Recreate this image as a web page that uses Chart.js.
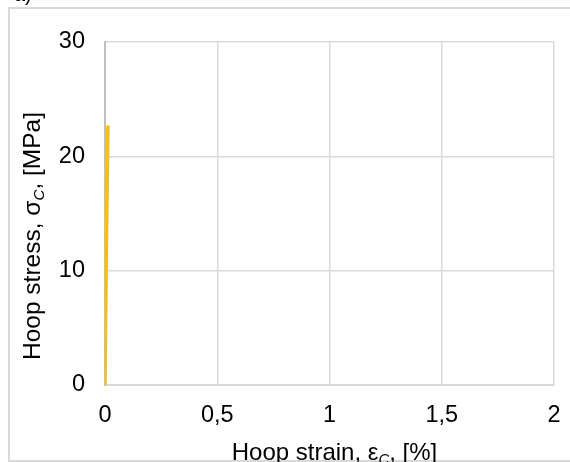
<!DOCTYPE html>
<html>
<head>
<meta charset="utf-8">
<script src="https://cdn.jsdelivr.net/npm/chart.js@4.4.1/dist/chart.umd.min.js"></script>
<style>
  html, body { margin: 0; padding: 0; background: #fff; }
  #wrap { width: 570px; height: 462px; position: relative; }
</style>
</head>
<body>
<div id="wrap"><canvas id="c" width="570" height="462"></canvas></div>
<script>
// 数据：环向应变 [%] / 环向应力 [MPa]
const strain = [0, 0.006, 0.013];
const stress = [0, 11.2, 22.7];
const xTicks = [0, 0.5, 1, 1.5, 2];
const yTicks = [0, 10, 20, 30];

const FONT = "'Liberation Sans', Arial, sans-serif";
const FS = 23.5;

// 带下标的文字（逐段绘制）
function drawRich(ctx, parts, size) {
  let w = 0;
  parts.forEach(p => {
    ctx.font = (p.sub ? 'italic ' : '') + (p.sub ? size * 0.62 : size) + 'px ' + FONT;
    p.w = ctx.measureText(p.t).width;
    w += p.w;
  });
  let x = -w / 2;
  parts.forEach(p => {
    ctx.font = (p.sub ? 'italic ' : '') + (p.sub ? size * 0.62 : size) + 'px ' + FONT;
    ctx.fillText(p.t, x, p.sub ? size * 0.18 : 0);
    x += p.w;
  });
}

const decoPlugin = {
  id: 'deco',
  beforeDraw(chart) {
    const ctx = chart.ctx;
    ctx.save();
    ctx.fillStyle = '#fff';
    ctx.fillRect(0, 0, chart.width, chart.height);
    ctx.strokeStyle = '#d9d9d9';
    ctx.lineWidth = 2;
    ctx.strokeRect(9, 8, 600, 453);
    ctx.fillStyle = '#000';
    ctx.font = '20px ' + FONT;
    ctx.textAlign = 'left';
    ctx.textBaseline = 'alphabetic';
    ctx.fillText('a)', 14, 1);
    ctx.restore();
  },
  afterDraw(chart) {
    const ctx = chart.ctx;
    const a = chart.chartArea;
    ctx.save();
    ctx.fillStyle = '#000';
    ctx.textAlign = 'left';
    ctx.textBaseline = 'alphabetic';
    // x 轴标题
    ctx.save();
    ctx.translate((a.left + a.right) / 2 + 5, 460);
    drawRich(ctx, [{ t: 'Hoop strain, ε' }, { t: 'C', sub: true }, { t: ', [%]' }], 24);
    ctx.restore();
    // y 轴标题
    ctx.save();
    ctx.translate(40, 236);
    ctx.rotate(-Math.PI / 2);
    drawRich(ctx, [{ t: 'Hoop stress, σ' }, { t: 'C', sub: true }, { t: ', [MPa]' }], 24.5);
    ctx.restore();
    ctx.restore();
  }
};

new Chart(document.getElementById('c'), {
  type: 'line',
  data: {
    datasets: [{
      data: strain.map((s, i) => ({ x: s, y: stress[i] })),
      borderColor: '#ffc000',
      borderWidth: 3.5,
      pointRadius: 0,
      fill: false,
      tension: 0
    }]
  },
  options: {
    responsive: false,
    animation: false,
    devicePixelRatio: 1,
    layout: { padding: { left: 0, top: 42, right: 16, bottom: 0 } },
    plugins: { legend: { display: false }, tooltip: { enabled: false } },
    scales: {
      x: {
        type: 'linear',
        min: 0,
        max: 2,
        afterBuildTicks: (s) => { s.ticks = xTicks.map(v => ({ value: v })); },
        afterFit: (s) => { s.height = 77; s.paddingLeft = 0; s.paddingRight = 0; },
        ticks: {
          color: '#000',
          font: { family: FONT, size: FS },
          padding: 16,
          maxRotation: 0,
          callback: (v) => String(v).replace('.', ',')
        },
        grid: { color: '#d9d9d9', lineWidth: 1.5, drawTicks: false },
        border: { color: '#d9d9d9', width: 2 }
      },
      y: {
        min: 0,
        max: 30,
        afterBuildTicks: (s) => { s.ticks = yTicks.map(v => ({ value: v })); },
        afterFit: (s) => { s.width = 105; s.paddingTop = 0; s.paddingBottom = 0; },
        ticks: {
          color: '#000',
          font: { family: FONT, size: FS },
          padding: 20
        },
        grid: { color: '#d9d9d9', lineWidth: 1.5, drawTicks: false },
        border: { color: '#bfbfbf', width: 2 }
      }
    }
  },
  plugins: [decoPlugin]
});
</script>
</body>
</html>
